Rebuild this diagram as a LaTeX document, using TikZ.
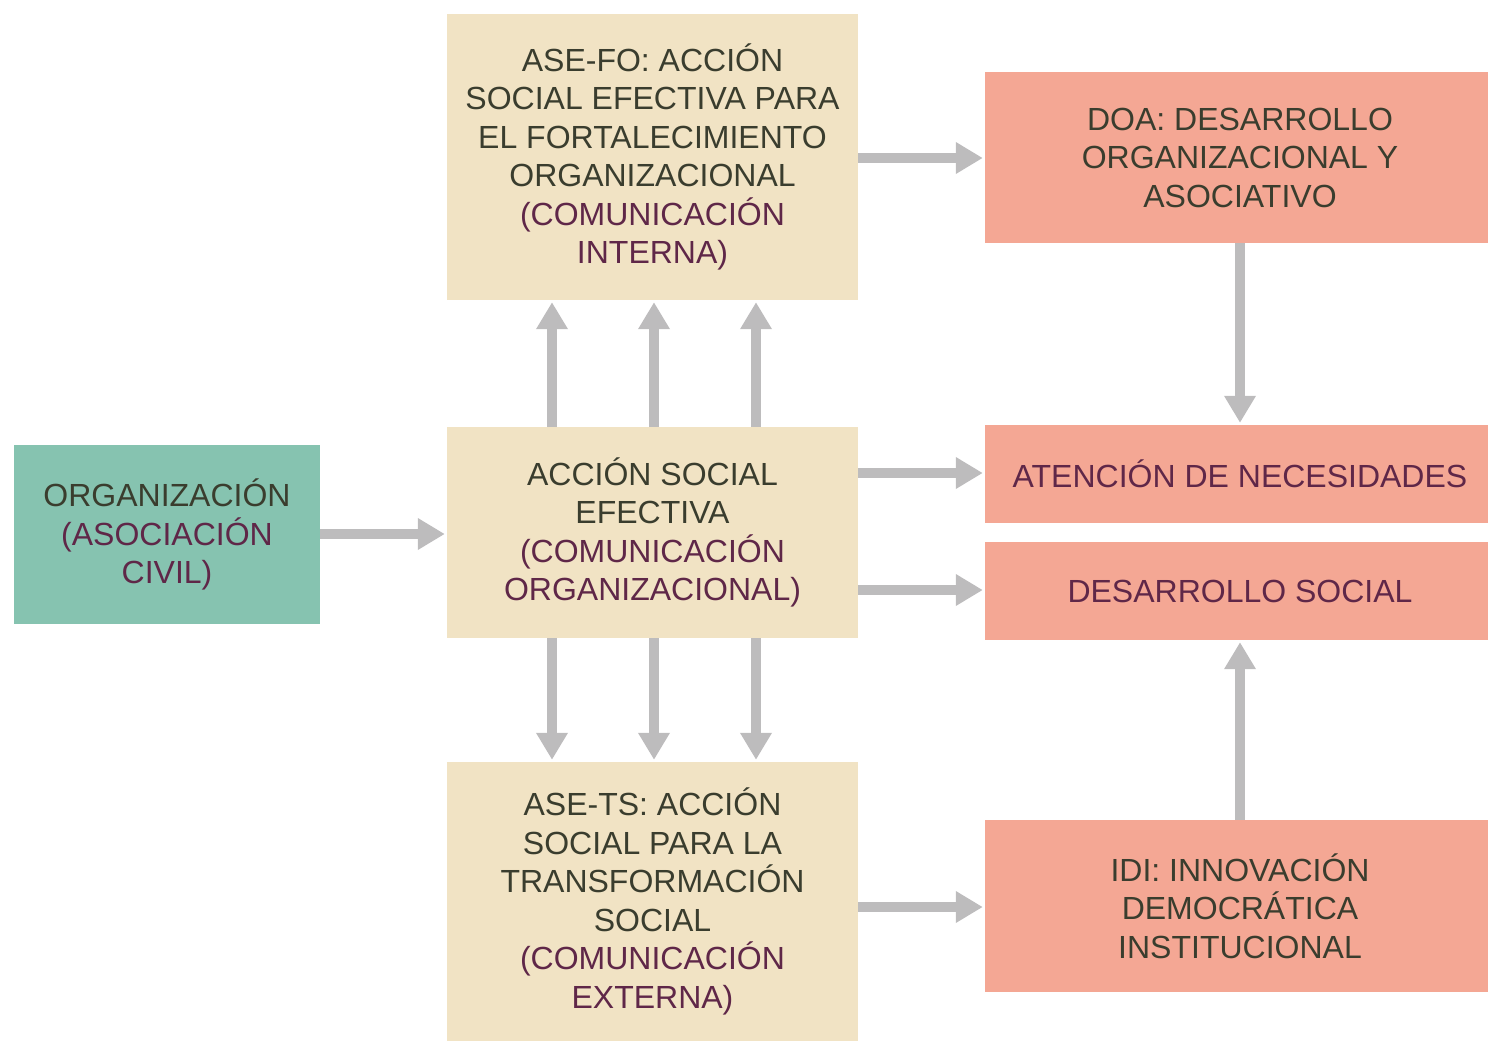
\documentclass[tikz,border=0pt]{standalone}
\usepackage{fontspec}
\setmainfont{Liberation Sans}
\usetikzlibrary{arrows.meta,calc}
\definecolor{beige}{HTML}{F1E3C4}
\definecolor{salmon}{HTML}{F4A794}
\definecolor{teal2}{HTML}{86C3B0}
\definecolor{darktxt}{HTML}{3A3D2E}
\definecolor{purp}{HTML}{5F2748}
\definecolor{arrgray}{HTML}{BDBCBD}
\begin{document}
\begin{tikzpicture}[x=1pt,y=-1pt,
  boxbase/.style={inner sep=0pt,align=center,text=darktxt,
    font=\fontsize{32}{38.5}\selectfont},
  beigebox/.style={boxbase,fill=beige,minimum width=411pt},
  salmonbox/.style={boxbase,fill=salmon,minimum width=510pt},
  tealbox/.style={boxbase,fill=teal2,minimum width=306pt},
  conn/.style={draw=arrgray,line width=10pt,shorten >=2pt,
    -{Triangle[length=27pt,width=30pt]}}]
\useasboundingbox (0,0) rectangle (1488,1041);
\begin{scope}
\clip (0,0) rectangle (1488,1041);
\node[beigebox,minimum height=286pt] (asefo) at (652.5,157) {ASE-FO: ACCIÓN\\SOCIAL EFECTIVA PARA\\EL FORTALECIMIENTO\\ORGANIZACIONAL\\\textcolor{purp}{(COMUNICACIÓN}\\\textcolor{purp}{INTERNA)}};
\node[salmonbox,minimum height=171pt] (doa) at (1240,157.5) {DOA: DESARROLLO\\ORGANIZACIONAL Y\\ASOCIATIVO};
\node[tealbox,minimum height=179pt] (org) at (167,534.5) {ORGANIZACIÓN\\\textcolor{purp}{(ASOCIACIÓN}\\\textcolor{purp}{CIVIL)}};
\node[beigebox,minimum height=211pt] (acc) at (652.5,532.5) {ACCIÓN SOCIAL\\EFECTIVA\\\textcolor{purp}{(COMUNICACIÓN}\\\textcolor{purp}{ORGANIZACIONAL)}};
\node[salmonbox,minimum height=98pt,text=purp] (aten) at (1240,474) {ATENCIÓN DE NECESIDADES};
\node[salmonbox,minimum height=98pt,text=purp] (des) at (1240,591) {DESARROLLO SOCIAL};
\node[beigebox,minimum height=279pt] (asets) at (652.5,901.5) {ASE-TS: ACCIÓN\\SOCIAL PARA LA\\TRANSFORMACIÓN\\SOCIAL\\\textcolor{purp}{(COMUNICACIÓN}\\\textcolor{purp}{EXTERNA)}};
\node[salmonbox,minimum height=172pt] (idi) at (1240,906) {IDI: INNOVACIÓN\\DEMOCRÁTICA\\INSTITUCIONAL};
\end{scope}
\coordinate (xa) at (552,0);
\coordinate (xb) at (654,0);
\coordinate (xc) at (756,0);
\coordinate (ya) at (0,158);
\coordinate (yb) at (0,473);
\coordinate (yc) at (0,590);
\coordinate (yd) at (0,534);
\coordinate (ye) at (0,907);
\draw[conn] (asefo.east |- ya) -- (doa.west |- ya);
\draw[conn] (org.east |- yd) -- (acc.west |- yd);
\draw[conn] (acc.east |- yb) -- (aten.west |- yb);
\draw[conn] (acc.east |- yc) -- (des.west |- yc);
\draw[conn] (asets.east |- ye) -- (idi.west |- ye);
\draw[conn] (doa.south) -- (aten.north);
\draw[conn] (idi.north) -- (des.south);
\foreach \c in {xa,xb,xc}{
  \draw[conn] (acc.north -| \c) -- (asefo.south -| \c);
  \draw[conn] (acc.south -| \c) -- (asets.north -| \c);
}
\end{tikzpicture}
\end{document}
